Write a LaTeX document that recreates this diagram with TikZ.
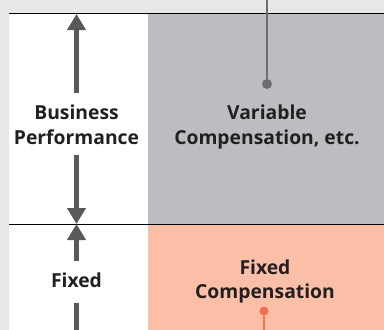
\documentclass[tikz,border=0pt]{standalone}
\usepackage{fontspec}
\setsansfont{Open Sans}
\usetikzlibrary{arrows.meta}
\definecolor{bggrey}{HTML}{E6E7E8}
\definecolor{vargrey}{HTML}{BCBDC0}
\definecolor{salmon}{HTML}{FABFA6}
\definecolor{arrowgrey}{HTML}{58595B}
\definecolor{pingrey}{HTML}{6D6E71}
\definecolor{pinorange}{HTML}{F26E50}
\definecolor{txt}{HTML}{231F20}
\tikzset{
  lbl/.style={align=center, text=txt, inner sep=0pt,
    font=\sffamily\bfseries\fontsize{19.3}{24.5}\selectfont},
  bigarrow/.style={draw=arrowgrey, line width=5pt,
    -{Triangle[width=18pt,length=16pt]}},
  divider/.style={draw=black, line width=1pt},
  pinline/.style={line width=2.2pt}
}
\begin{document}
\begin{tikzpicture}[x=1pt,y=-1pt]
\useasboundingbox (0,0) rectangle (384,330);
\clip (0,0) rectangle (384,330);
\fill[bggrey] (0,0) rectangle (384,330);
\fill[white] (9,13) rectangle (384,330);
\fill[vargrey] (148,13) rectangle (384,224);
\fill[salmon] (148,224) rectangle (384,330);
\draw[divider] (9,13) -- (384,13);
\draw[divider] (9,224) -- (384,224);
% labels
\node[lbl] (bp) at (76.5,125) {Business\\Performance};
\node[lbl] (vc) at (267,127) {Variable\\Compensation, etc.};
\node[lbl] (fx) at (76.5,280.5) {Fixed};
\node[lbl] (fc) at (265,281.5) {Fixed\\Compensation};
% arrow end points
\coordinate (top) at (76.5,14);
\coordinate (upstart) at (76.5,93);
\coordinate (dnstart) at (76.5,155);
\coordinate (mid) at (76.5,224);
\coordinate (fupstart) at (76.5,261);
\coordinate (fdnstart) at (76.5,303);
\coordinate (fdnend) at (76.5,348);
\draw[bigarrow] (upstart) -- (top);
\draw[bigarrow] (dnstart) -- (mid);
\draw[bigarrow] (fupstart) -- (mid);
\draw[bigarrow] (fdnstart) -- (fdnend);
% pins
\coordinate (pintop) at (267,0);
\node[circle, fill=pingrey, inner sep=0pt, minimum size=10pt] (pindot) at (267,84) {};
\draw[pingrey, pinline] (pintop) -- (pindot);
\coordinate (opinbot) at (264,330);
\node[circle, fill=pinorange, inner sep=0pt, minimum size=9pt] (opindot) at (264,311) {};
\draw[pinorange, pinline] (opindot) -- (opinbot);
\end{tikzpicture}
\end{document}
